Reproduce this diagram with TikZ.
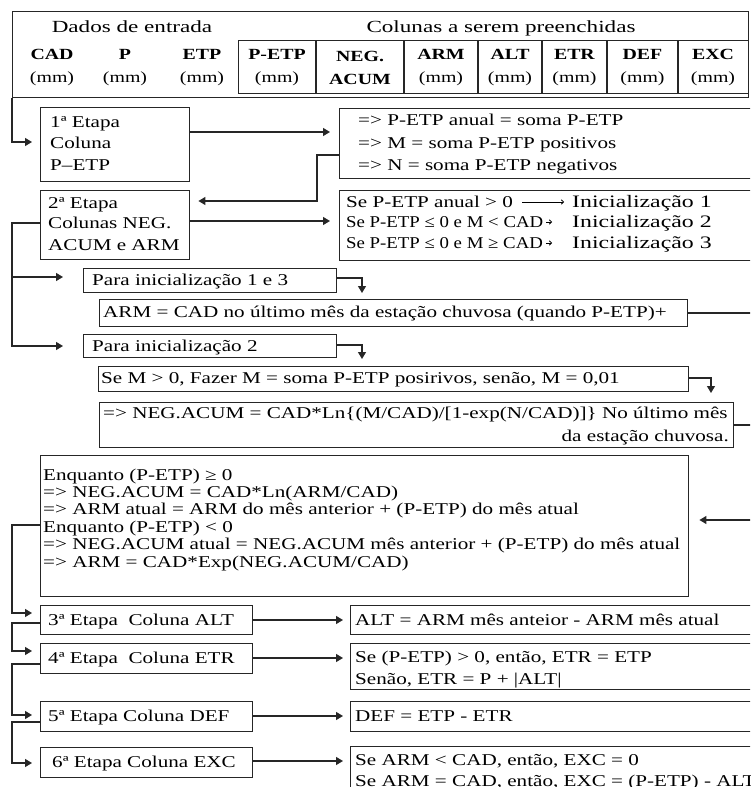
\documentclass[tikz,border=0pt]{standalone}
\usepackage{fontspec}
\setmainfont{Liberation Serif}[FakeStretch=1.28]
\newfontfamily\cambfont{Liberation Serif}[FakeStretch=1.36]
\newfontfamily\narrowfont{Liberation Serif}[FakeStretch=1.14]
\usetikzlibrary{arrows.meta}
\newcommand\fs{\fontsize{16.5}{20}\selectfont}
\begin{document}
\begin{tikzpicture}[x=1pt,y=-1pt,
  bx/.style={draw=black!85, line width=1.4pt, anchor=north west, inner sep=0pt},
  txt/.style={inner sep=0pt, anchor=west, font=\fs, text height=13pt, text depth=3pt},
  hd/.style={inner sep=0pt, align=center, font=\fontsize{15.5}{23}\selectfont},
  ttl/.style={inner sep=0pt, font=\cambfont\fontsize{17}{20}\selectfont, text height=13pt, text depth=3pt},
  ln/.style={draw=black!85, line width=1.3pt},
  arr/.style={ln, -{Triangle[length=7pt,width=8pt]}},
  tarr/.style={line width=0.8pt, -{To[length=3pt,width=5pt]}},
]
\useasboundingbox (0,0) rectangle (750,787);
\clip (0,0) rectangle (750,787);

% ---------- header table ----------
\node[bx, minimum width=736pt, minimum height=86pt] (hdr) at (12,11) {};
\node[bx, minimum width=510pt, minimum height=53pt] (cols) at (238,40) {};
\foreach \x in {316,404,478,542,607,678} \draw[ln] (\x,40) -- (\x,93);
\node[ttl] (tin) at (132,27) {Dados de entrada};
\node[ttl] (tout) at (501,27) {Colunas a serem preenchidas};
\node[hd] (hCAD) at (52,67.5) {\textbf{CAD}\\(mm)};
\node[hd] (hP) at (125,67.5) {\textbf{P}\\(mm)};
\node[hd] (hETP) at (202,67.5) {\textbf{ETP}\\(mm)};
\node[hd] (hPETP) at (277,67.5) {\textbf{P-ETP}\\(mm)};
\node[hd] (hNEG) at (360,67.5) {\textbf{NEG.}\\\textbf{ACUM}};
\node[hd] (hARM) at (441,67.5) {\textbf{ARM}\\(mm)};
\node[hd] (hALT) at (510,67.5) {\textbf{ALT}\\(mm)};
\node[hd] (hETR) at (574.5,67.5) {\textbf{ETR}\\(mm)};
\node[hd] (hDEF) at (642.5,67.5) {\textbf{DEF}\\(mm)};
\node[hd] (hEXC) at (713,67.5) {\textbf{EXC}\\(mm)};

% ---------- boxes ----------
\node[bx, minimum width=149pt, minimum height=74pt] (b1) at (40,107) {};
\node[bx, minimum width=431pt, minimum height=70pt] (c1) at (339,108) {};
\node[bx, minimum width=149pt, minimum height=69pt] (b2) at (40,190) {};
\node[bx, minimum width=431pt, minimum height=70pt] (c2) at (339,190) {};
\node[bx, minimum width=253pt, minimum height=24pt] (p13) at (83,268) {};
\node[bx, minimum width=588pt, minimum height=27pt] (arm) at (99,299) {};
\node[bx, minimum width=253pt, minimum height=23pt] (p2) at (83,334) {};
\node[bx, minimum width=590pt, minimum height=25pt] (sem) at (98,366) {};
\node[bx, minimum width=634pt, minimum height=45pt] (neg) at (99,402) {};
\node[bx, minimum width=648pt, minimum height=141pt] (enq) at (40,455) {};
\node[bx, minimum width=212pt, minimum height=29pt] (s3) at (40,605) {};
\node[bx, minimum width=212pt, minimum height=30pt] (s4) at (40,643) {};
\node[bx, minimum width=212pt, minimum height=30pt] (s5) at (40,701) {};
\node[bx, minimum width=212pt, minimum height=30pt] (s6) at (40,747) {};
\node[bx, minimum width=420pt, minimum height=29pt] (r3) at (350,605) {};
\node[bx, minimum width=420pt, minimum height=46pt] (r4) at (350,643) {};
\node[bx, minimum width=420pt, minimum height=30pt] (r5) at (350,701) {};
\node[bx, minimum width=420pt, minimum height=55pt] (r6) at (350,746) {};

% ---------- texts ----------
\node[txt] (b1a) at (50,122) {1ª Etapa};
\node[txt] (b1b) at (50,143) {Coluna};
\node[txt] (b1c) at (50,165) {P–ETP};
\node[txt] (c1a) at (358,120) {=> P-ETP anual = soma P-ETP};
\node[txt] (c1b) at (358,143) {=> M = soma P-ETP positivos};
\node[txt] (c1c) at (358,165) {=> N = soma P-ETP negativos};
\node[txt] (b2a) at (48,203) {2ª Etapa};
\node[txt] (b2b) at (48,223) {Colunas NEG.};
\node[txt] (b2c) at (48,245) {ACUM e ARM};
\node[txt] (c2a) at (346,202) {Se P-ETP anual > 0};
\node[txt, font=\narrowfont\fs] (c2b) at (346,222) {Se P-ETP ≤ 0 e M < CAD};
\node[txt, font=\narrowfont\fs] (c2c) at (346,243) {Se P-ETP ≤ 0 e M ≥ CAD};
\node[txt, font=\cambfont\fontsize{17.5}{20}\selectfont] (c2ai) at (572,202) {Inicialização 1};
\node[txt, font=\cambfont\fontsize{17.5}{20}\selectfont] (c2bi) at (572,222) {Inicialização 2};
\node[txt, font=\cambfont\fontsize{17.5}{20}\selectfont] (c2ci) at (572,243) {Inicialização 3};
\draw[tarr, shorten <=9pt, shorten >=8pt] (c2a.east) -- (c2ai.west);
\draw[tarr] ([xshift=3pt]c2b.east) -- ([xshift=-20pt]c2bi.west);
\draw[tarr] ([xshift=3pt]c2c.east) -- ([xshift=-20pt]c2ci.west);
\node[txt] (p13t) at (92,280) {Para inicialização 1 e 3};
\node[txt] (armt) at (103,312.5) {ARM = CAD no último mês da estação chuvosa (quando P-ETP)+};
\node[txt] (p2t) at (92,346) {Para inicialização 2};
\node[txt] (semt) at (101,378.5) {Se M > 0, Fazer M = soma P-ETP posirivos, senão, M = 0,01};
\node[txt] (nega) at (103,413) {=> NEG.ACUM = CAD*Ln\{(M/CAD)/[1-exp(N/CAD)]\} No último mês};
\node[txt, anchor=east] (negb) at (729,436) {da estação chuvosa.};
\node[txt] (e1) at (43,475) {Enquanto (P-ETP) ≥ 0};
\node[txt] (e2) at (43,492) {=> NEG.ACUM = CAD*Ln(ARM/CAD)};
\node[txt] (e3) at (43,509) {=> ARM atual = ARM do mês anterior + (P-ETP) do mês atual};
\node[txt] (e4) at (43,527) {Enquanto (P-ETP) < 0};
\node[txt] (e5) at (43,544) {=> NEG.ACUM atual = NEG.ACUM mês anterior + (P-ETP) do mês atual};
\node[txt] (e6) at (43,562) {=> ARM = CAD*Exp(NEG.ACUM/CAD)};
\node[txt] (s3t) at (48,620) {3ª Etapa\ \ Coluna ALT};
\node[txt] (s4t) at (48,658) {4ª Etapa\ \ Coluna ETR};
\node[txt] (s5t) at (48,716) {5ª Etapa Coluna DEF};
\node[txt] (s6t) at (52,762) {6ª Etapa Coluna EXC};
\node[txt] (r3t) at (355,620) {ALT = ARM mês anteior - ARM mês atual};
\node[txt] (r4a) at (355,657) {Se (P-ETP) > 0, então, ETR = ETP};
\node[txt] (r4b) at (355,679) {Senão, ETR = P + |ALT|};
\node[txt] (r5t) at (355,716) {DEF = ETP - ETR};
\node[txt] (r6a) at (355,760) {Se ARM < CAD, então, EXC = 0};
\node[txt] (r6b) at (355,781) {Se ARM = CAD, então, EXC = (P-ETP) - ALT};

% ---------- connectors ----------
\draw[arr, shorten >=8pt] (hdr.south west) |- (b1.west |- 0,142);
\draw[arr, shorten >=9pt] (b1.east |- 0,132) -- (c1.west |- 0,132);
\coordinate (k1) at (317,155);
\draw[arr, shorten >=8pt] (c1.west |- k1) -- (k1) |- (b2.east |- 0,201);
\draw[arr, shorten >=9pt] (b2.east |- 0,221) -- (c2.west |- 0,221);
\coordinate (t1) at (12,277);
\draw[arr, shorten >=20pt] (b2.west |- 0,223) -| (t1) -- (p13.west |- t1);
\draw[arr, shorten >=20pt] (t1) -- (12,346) -- (p2.west |- 0,346);
\draw[arr] (p13.east |- 0,278) -| (362,293);
\draw[arr] (p2.east |- 0,345) -| (362,359);
\coordinate (o1) at (760,313);
\draw[ln] (arm.east |- o1) -- (o1);
\draw[arr] (sem.east |- 0,378) -| (711,393);
\coordinate (o2) at (760,425);
\draw[ln] (neg.east |- o2) -- (o2);
\coordinate (o3) at (760,520);
\draw[arr, shorten >=10pt] (o3) -- (enq.east |- o3);
\draw[arr, shorten >=8pt] (enq.west |- 0,525) -| (12,613) -- (s3.west |- 0,613);
\draw[arr, shorten >=8pt] (s3.west |- 0,623) -| (12,651) -- (s4.west |- 0,651);
\draw[arr, shorten >=8pt] (s4.west |- 0,664) -| (12,715) -- (s5.west |- 0,715);
\draw[arr, shorten >=8pt] (s5.west |- 0,722) -| (12,763) -- (s6.west |- 0,763);
\draw[arr, shorten >=7pt] (s3.east |- 0,620) -- (r3.west |- 0,620);
\draw[arr, shorten >=7pt] (s4.east |- 0,658) -- (r4.west |- 0,658);
\draw[arr, shorten >=7pt] (s5.east |- 0,716) -- (r5.west |- 0,716);
\draw[arr, shorten >=7pt] (s6.east |- 0,761) -- (r6.west |- 0,761);
\end{tikzpicture}
\end{document}
